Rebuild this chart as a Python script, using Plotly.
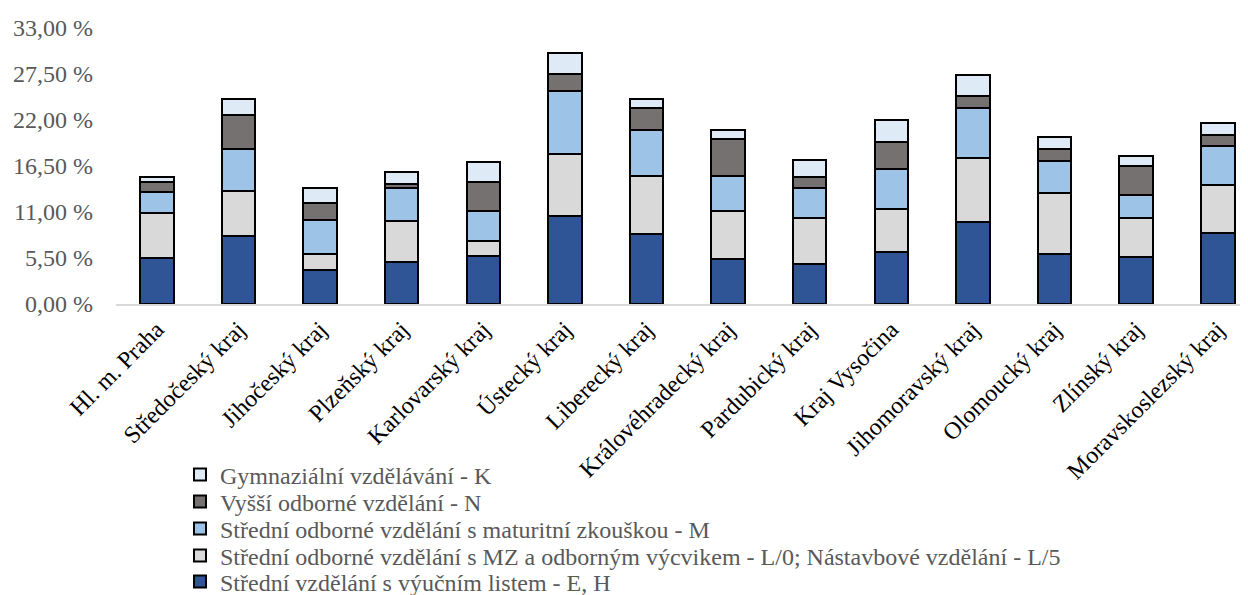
import plotly.graph_objects as go

categories = ["Hl. m. Praha", "Středočeský kraj", "Jihočeský kraj", "Plzeňský kraj",
              "Karlovarský kraj", "Ústecký kraj", "Liberecký kraj", "Královéhradecký kraj",
              "Pardubický kraj", "Kraj Vysočina", "Jihomoravský kraj", "Olomoucký kraj",
              "Zlínský kraj", "Moravskoslezský kraj"]

vals_EH = [5.50, 8.13, 4.02, 5.06, 5.69, 10.47, 8.37, 5.33, 4.78, 6.22, 9.76, 6.01, 5.66, 8.52]
vals_L = [5.33, 5.33, 1.96, 4.82, 1.84, 7.50, 6.97, 5.74, 5.45, 5.09, 7.70, 7.21, 4.63, 5.70]
vals_M = [2.51, 5.02, 4.02, 3.95, 3.59, 7.45, 5.50, 4.18, 3.67, 4.87, 5.93, 3.91, 2.70, 4.62]
vals_N = [1.28, 4.07, 2.03, 0.56, 3.42, 2.08, 2.59, 4.42, 1.28, 3.14, 1.48, 1.43, 3.52, 1.40]
vals_K = [0.56, 2.00, 1.79, 1.35, 2.44, 2.55, 1.08, 1.12, 2.03, 2.71, 2.51, 1.40, 1.23, 1.43]

series_names = [
    "Střední vzdělání s výučním listem - E, H",
    "Střední odborné vzdělání s MZ a odborným výcvikem - L/0; Nástavbové vzdělání - L/5",
    "Střední odborné vzdělání s maturitní zkouškou - M",
    "Vyšší odborné vzdělání - N",
    "Gymnaziální vzdělávání - K",
]
series_colors = ["#2F5597", "#D9D9D9", "#9DC3E6", "#767171", "#DEEBF7"]
legend_ids = ["legend5", "legend4", "legend3", "legend2", "legend"]

tick_vals = [0, 5.5, 11, 16.5, 22, 27.5, 33]
tick_text = ["0,00 %", "5,50 %", "11,00 %", "16,50 %", "22,00 %", "27,50 %", "33,00 %"]

FONT = "Liberation Serif"
W, H = 1240, 587  # page body adds an 8px margin

fig = go.Figure()
for name, vals, col, lg in zip(series_names, [vals_EH, vals_L, vals_M, vals_N, vals_K],
                               series_colors, legend_ids):
    fig.add_trace(go.Bar(
        x=categories, y=vals, name=name, legend=lg,
        marker=dict(color=col, line=dict(color="#000000", width=2)),
    ))

legend_style = dict(
    xref="container", yref="container", xanchor="left", yanchor="middle",
    bgcolor="rgba(0,0,0,0)",
    font=dict(family=FONT, size=24, color="#595959"),
    itemwidth=30,
)
# row centres in figure pixels (top to bottom): K, N, M, L, E
row_centres = {"legend": 467, "legend2": 494, "legend3": 521, "legend4": 548, "legend5": 574}
layout_legends = {}
for lg, yc in row_centres.items():
    layout_legends[lg] = dict(legend_style, x=172 / W, y=1 - yc / H)

fig.update_layout(
    barmode="stack",
    bargap=0.59,
    width=W, height=H,
    margin=dict(l=108, r=0, t=20, b=291, autoexpand=False),
    paper_bgcolor="white", plot_bgcolor="white",
    font=dict(family=FONT, size=24, color="#595959"),
    showlegend=True,
    xaxis=dict(
        range=[-0.5, 13.37],
        tickangle=-45,
        tickfont=dict(family=FONT, size=24, color="#000000"),
        showline=True, linecolor="#D9D9D9", linewidth=2,
        ticks="", showgrid=False,
    ),
    yaxis=dict(
        range=[0, 33],
        tickvals=tick_vals, ticktext=tick_text,
        tickfont=dict(family=FONT, size=24, color="#595959"),
        showgrid=False, zeroline=False, showline=False,
        ticks="", ticklabelstandoff=22,
    ),
    **layout_legends,
)

fig.write_html("out.html")
